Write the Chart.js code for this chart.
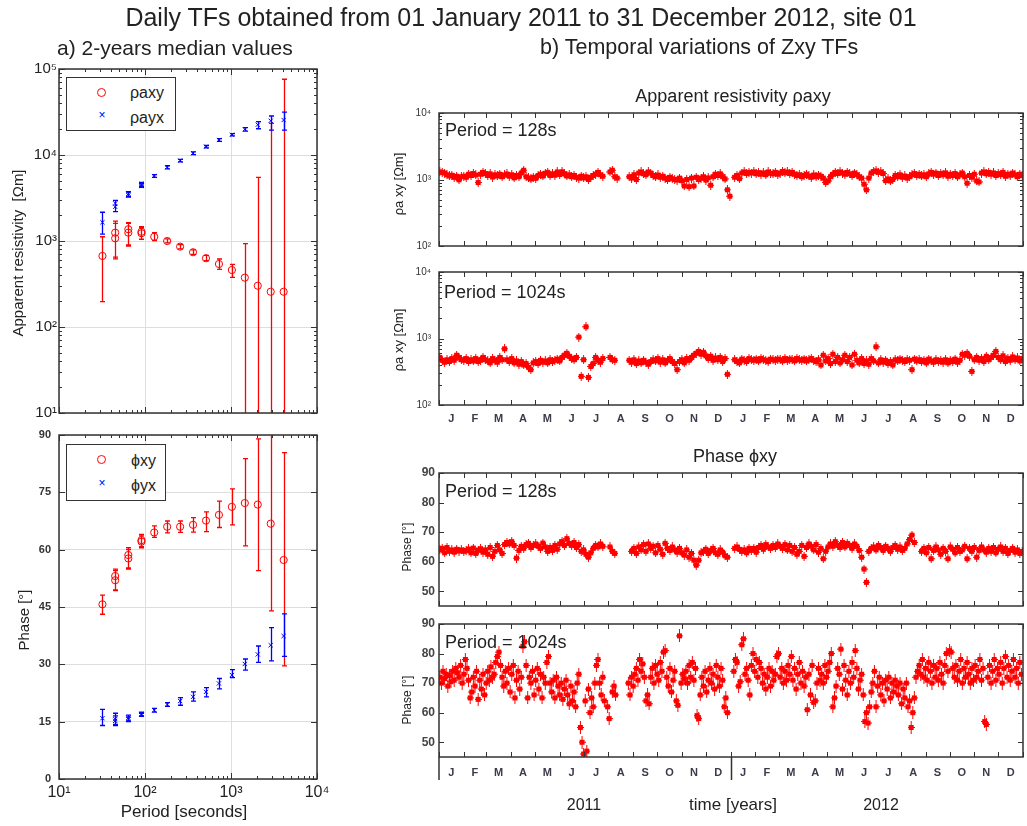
<!DOCTYPE html>
<html><head><meta charset="utf-8">
<script src="https://cdn.jsdelivr.net/npm/chart.js@4.4.1/dist/chart.umd.min.js"></script>
<style>
html,body{margin:0;padding:0;background:#fff;}
#wrap{position:relative;width:1027px;height:826px;overflow:hidden;font-family:"Liberation Sans",Arial,sans-serif;color:#222;}
canvas{position:absolute;left:0;top:0;}
.t{position:absolute;white-space:nowrap;line-height:1;}
.c{transform:translateX(-50%);}
.r{transform:translate(-50%,-50%) rotate(-90deg);}
.lg{position:absolute;border:1.5px solid #333;background:#fff;box-sizing:border-box;}
.mk{position:absolute;}
</style></head><body><div id="wrap">
<canvas id="cA" width="1027" height="826"></canvas>
<canvas id="cB" width="1027" height="826"></canvas>
<canvas id="c1" width="1027" height="826"></canvas>
<canvas id="c2" width="1027" height="826"></canvas>
<canvas id="c3" width="1027" height="826"></canvas>
<canvas id="c4" width="1027" height="826"></canvas>

<div class="t c" style="left:521px;top:5px;font-size:25px;">Daily TFs obtained from 01 January 2011 to 31 December 2012, site 01</div>
<div class="t" style="left:57px;top:37px;font-size:21px;">a) 2-years median values</div>
<div class="t" style="left:540px;top:37px;font-size:21.5px;">b) Temporal variations of Zxy TFs</div>

<div class="lg" style="left:66px;top:77px;width:110px;height:54px;"></div>
<div class="mk" style="left:97px;top:88px;width:7px;height:7px;border:1px solid #ff0000;border-radius:50%;"></div>
<div class="t c" style="left:102px;top:109px;font-size:12px;color:#0000ff;">×</div>
<div class="t" style="left:130px;top:85px;font-size:16px;">ρaxy</div>
<div class="t" style="left:130px;top:110px;font-size:16px;">ρayx</div>

<div class="lg" style="left:66px;top:444px;width:100px;height:57px;"></div>
<div class="mk" style="left:97px;top:455px;width:7px;height:7px;border:1px solid #ff0000;border-radius:50%;"></div>
<div class="t c" style="left:102px;top:477px;font-size:12px;color:#0000ff;">×</div>
<div class="t" style="left:131px;top:453px;font-size:16px;">ϕxy</div>
<div class="t" style="left:131px;top:478px;font-size:16px;">ϕyx</div>

<div class="t r" style="left:17px;top:253px;font-size:15px;">Apparent resistivity &nbsp;[Ωm]</div>
<div class="t r" style="left:23px;top:620px;font-size:15px;">Phase [°]</div>
<div class="t c" style="left:184px;top:803px;font-size:17px;">Period [seconds]</div>

<div class="t c" style="left:733px;top:87px;font-size:18px;">Apparent resistivity ρaxy</div>
<div class="t c" style="left:735px;top:447px;font-size:18px;">Phase ϕxy</div>
<div class="t" style="left:445px;top:121px;font-size:18px;">Period = 128s</div>
<div class="t" style="left:444px;top:283px;font-size:18px;">Period = 1024s</div>
<div class="t" style="left:445px;top:482px;font-size:18px;">Period = 128s</div>
<div class="t" style="left:445px;top:633px;font-size:18px;">Period = 1024s</div>
<div class="t r" style="left:398px;top:184px;font-size:13px;">ρa xy [Ωm]</div>
<div class="t r" style="left:398px;top:340px;font-size:13px;">ρa xy [Ωm]</div>
<div class="t r" style="left:407px;top:547px;font-size:12px;">Phase [°]</div>
<div class="t r" style="left:407px;top:700px;font-size:12px;">Phase [°]</div>
<div class="t c" style="left:584px;top:797px;font-size:16px;">2011</div>
<div class="t c" style="left:733px;top:796px;font-size:17px;">time [years]</div>
<div class="t c" style="left:881px;top:797px;font-size:16px;">2012</div>
</div>
<script>
// ---------- a) 2-years median values ----------
const PERIODS = [32,45,45,64,64,91,91,128,181,256,362,512,724,1024,1448,2048,2896,4096];
const RHO_XY    = [670,1250,1075,1370,1250,1280,1230,1120,1000,860,740,630,540,460,375,302,257,257];
const RHO_XY_LO = [197,650,620,875,900,1045,1050,1010,950,810,700,590,469,378,1,1,1,1];
const RHO_XY_HI = [1120,1700,1600,1630,1600,1465,1420,1250,1060,910,790,680,618,536,930,5500,23300,76000];
const RHO_YX    = [1650,2740,2500,3550,3400,4600,4350,5700,7200,8600,10500,12500,14950,17200,19900,22500,25000,25500];
const RHO_YX_LO = [1200,2190,2190,3300,3250,4350,4200,5500,6900,8300,10100,12100,14400,16700,19000,20200,19500,19500];
const RHO_YX_HI = [2160,2970,2970,3750,3700,4800,4650,5900,7500,8900,10900,12900,15500,17700,20800,24400,28400,31600];
const PHI_XY    = [45.7,53.1,52.0,58.6,57.7,62.5,62.1,64.5,66.0,66.0,66.5,67.6,69.1,71.2,72.2,71.8,66.8,57.3];
const PHI_XY_LO = [43.1,49.3,49.5,54.9,55.2,60.5,60.8,63.2,64.4,64.5,64.6,64.7,65.8,66.5,61.0,54.5,44.0,29.6];
const PHI_XY_HI = [48.1,54.9,54.5,60.5,60.0,64.0,63.6,66.2,67.5,67.5,68.4,69.9,72.7,75.9,83.8,89.0,95.0,85.4];
const PHI_YX    = [15.9,15.7,15.2,16.0,15.6,17.0,16.8,18.0,19.5,20.4,21.5,22.8,25.0,27.2,30.1,32.6,35.0,37.4];
const PHI_YX_LO = [14.0,14.0,14.3,15.2,15.0,16.5,16.4,17.5,19.0,19.3,20.4,21.5,23.6,26.5,28.5,30.5,30.9,32.1];
const PHI_YX_HI = [18.2,17.2,16.5,16.7,16.2,17.5,17.2,18.5,20.0,21.3,22.8,23.9,26.3,28.6,31.4,34.8,39.6,43.2];

const PERIOD_TICKS = [10,100,1000,10000];
const PERIOD_TICK_LABELS = ['10¹','10²','10³','10⁴'];
const RHO_TICKS = [10,100,1000,10000,100000];
const RHO_TICK_LABELS = ['10¹','10²','10³','10⁴','10⁵'];
const PHASE_TICKS = [0,15,30,45,60,75,90];
const PHASE_TICK_LABELS = ['0','15','30','45','60','75','90'];

// ---------- b) daily values (days from 01 Jan 2011) ----------
const MONTH_STARTS = [0,31,59,90,120,151,181,212,243,273,304,334,365,396,425,456,486,517,547,578,609,639,670,700,731];
const MONTH_LABELS = ['J','F','M','A','M','J','J','A','S','O','N','D','J','F','M','A','M','J','J','A','S','O','N','D'];
const DAY_STEP_A = 3;   // one value every 3 days (panels rho128, rho1024, phi128)
const DAY_STEP_B = 2;   // one value every 2 days (panel phi1024)
const RHO_R_TICKS = [100,1000,10000];
const RHO_R_LABELS = ['10²','10³','10⁴'];
const PH_R_TICKS = [50,60,70,80,90];
const PH_R_LABELS = ['50','60','70','80','90'];

const RHO128 = [
1300,1280,1250,1180,1130,1160,1080,1120,990,1100,
1120,1080,1200,1150,1230,1170,900,1200,1280,1230,
1150,1220,1090,1180,1130,1200,1100,1170,1210,1120,
1180,1060,1150,1100,1250,1380,1100,1060,1020,1080,
1040,1150,1200,1130,1240,1280,1150,1220,1160,1300,
1190,1310,1220,1130,1180,1100,1150,1080,1050,1120,
1060,1100,1000,1080,1150,1200,1280,1180,1120,null,
null,1300,1380,1100,1050,null,null,null,null,1100,
1050,1180,1000,1250,1300,1220,1180,1300,1250,1150,
1100,1170,1080,1120,1050,1000,1080,1030,1000,980,
1050,960,800,1000,780,1050,800,1080,1000,1050,
1100,980,1060,820,1100,1200,1150,1220,1100,1020,
700,560,null,1080,1150,1030,1250,1300,1230,1280,
1250,1300,1220,1270,1200,1260,1180,1300,1240,1220,
1280,1200,1250,1320,1260,1300,1230,1280,1200,1150,
1180,1100,1150,1200,1130,1080,1170,1100,1160,1120,
1050,900,950,1100,1200,1280,1230,1300,1250,1200,
1280,1220,1150,1250,1180,1100,1050,850,700,1050,
1250,1320,1350,1280,1300,1230,960,1020,950,1000,
1150,1100,1180,1080,1130,1050,1100,1180,1230,1150,
1200,1130,1180,1100,1220,1280,1200,1250,1150,1230,
1180,1260,1120,1200,1150,1230,1100,1180,1250,1100,
880,1150,1080,1200,950,920,1250,1300,1220,1280,
1200,1260,1150,1230,1180,1280,1120,1200,1160,1250,
1180,1100,1200,1150];

const RHO1024 = [
520,470,440,480,450,500,470,560,520,480,
470,500,450,480,460,500,450,470,520,480,
460,430,500,470,440,520,480,700,480,450,
500,430,460,410,450,400,420,370,340,430,
450,420,470,440,460,430,480,450,470,490,
460,520,560,600,540,500,480,520,1050,270,
480,1500,260,380,420,520,470,440,500,null,
null,520,480,470,null,null,null,null,null,470,
440,480,420,460,430,470,440,410,450,480,
460,500,440,480,430,470,500,450,420,340,
450,480,430,500,470,520,560,600,640,580,
620,550,500,540,470,510,480,520,450,500,
290,null,null,480,450,430,490,470,450,500,
480,470,490,460,500,480,470,450,490,480,
470,490,480,460,500,470,490,480,460,500,
480,470,490,460,480,500,470,450,480,400,
560,460,500,420,580,450,520,430,480,560,
450,520,400,580,470,430,500,420,460,410,
500,460,750,430,480,440,470,420,450,400,
480,460,490,470,450,480,470,340,490,460,
480,450,470,430,490,460,440,480,450,470,
440,480,430,470,450,490,440,470,580,560,
600,540,320,480,520,470,500,450,540,480,
520,560,640,520,480,550,450,500,470,530,
480,510,460,500];

const PHI128 = [
64.0,64.5,63.0,64.8,63.5,64.0,63.2,64.2,63.6,64.0,
63.5,63.8,64.3,63.0,64.6,62.8,63.9,64.4,63.2,64.0,
62.5,64.8,61.8,63.5,65.5,64.0,62.8,65.8,66.5,66.0,
66.8,65.5,61.2,63.8,65.2,64.5,65.8,66.2,64.8,65.5,
66.0,65.2,64.5,66.3,65.0,63.5,64.8,63.8,65.5,64.2,
66.0,66.8,65.5,67.8,66.2,65.5,66.5,64.8,65.8,63.5,
64.0,62.5,61.5,63.0,64.5,65.5,65.0,66.0,65.2,null,
null,65.0,63.5,62.8,null,null,null,null,null,null,
63.5,64.5,62.8,65.0,64.0,65.8,63.5,66.0,64.5,65.2,
63.0,65.5,64.2,62.5,66.2,64.5,63.8,65.0,64.0,63.2,
64.5,63.0,62.2,64.0,61.5,62.8,60.5,58.8,60.5,63.0,
63.5,64.2,62.8,63.8,64.5,63.0,62.5,64.0,63.2,62.0,
61.5,null,null,64.5,65.0,64.2,63.5,64.0,63.0,64.5,
63.8,64.5,63.2,64.8,65.5,64.2,65.8,65.0,64.5,65.5,
64.8,66.0,65.2,64.5,65.8,64.0,65.5,63.5,64.8,62.5,
63.5,65.5,61.8,64.8,66.0,65.2,64.0,65.8,63.2,64.5,
61.0,63.5,65.0,66.0,65.2,66.8,65.5,64.8,66.5,65.0,
66.2,65.5,64.5,66.0,65.2,63.8,61.5,57.5,53.0,63.5,
64.5,65.0,64.0,65.5,64.8,63.8,65.2,64.5,63.5,64.8,
65.5,64.2,65.0,63.8,64.5,66.0,67.5,69.0,66.5,null,
null,63.5,64.5,63.0,64.8,61.0,63.8,65.0,64.0,62.5,
64.5,63.5,61.0,65.0,64.2,63.0,64.8,63.5,64.0,65.2,
61.0,64.5,63.5,64.8,61.5,63.8,65.0,64.0,63.2,64.5,
63.5,64.8,63.0,64.2,65.0,63.5,64.5,62.8,63.8,64.5,
63.2,64.0,62.8,63.5];

const PHI1024 = [
72,70,74,71.5,73,69,72.5,70.5,74,71,
75,73.5,72,76,70,73,78,75,71,65,
67,72,69,74,64.5,71,68,73,66,70,
74,71,75.5,72,73,77,79,80.5,76,72,
69,74,70,75,67,73,76,65,71,74,
68,72,82.5,84,76,65,72,70,74,66,
71,75,68,73,65,72,70,77,79,70,
67,71,65,72,69,66,70,64.5,68,71,
66,63,69,64,67,62,70,73,55,50,
46,64,47,68,60,65,62,70,76,78,
70,66,72,64,null,62,58,null,67,69,
66,null,null,null,null,null,null,null,70,66,
72,69,73,75,71,78,74,76.5,72,64,
66,63,72,75,70,76,73,71,77,74,
80.5,81,72,69,75,67,71,74,64,62.5,
86,70,73,71.5,74,70,76,72,77,71,
75,59,58,66,72,69,74,67,71,75,
70,73,68,76,72,69,75,71,62,65,
60,null,null,null,74,78,77,69,70.5,83,
85,73,75,71,66,76,80,74,78,72,
77,75,70,73,68,72,75,69,74,71,
73,79,80,72,75,70,74,71,76,73,
79,71,75,68,73,77,70,74,69,72,
61,73,66,76,63.5,64,70,75,71,73,
70,76,72,74,77,80,62,65,69,75,
73,81.5,68,76,71,66,74,70,77,72,
81,75,68,71,73,66,57,60,56.5,62,
67,70,74,62,69,72,66,70,64,71,
68,72,65,70,67,71,69,66,70,63,
68,65,70,62,64,55,60,65,72,74,
76,73,78,72,75,71,77,74,70,76,
72,75,71,77,73,70,76,80,74,81,
80.5,75,72,76,71,74,78,70,75,72,
77,73,70,75,71,76,72,74,78,71,
75,57,56,72,76,70,74,78,71,75,
73,77,70,75,79,72,76,71,74,78,
72,75,70,77,73];

// ---------- drawing ----------
const W = 1027, H = 826;
const YW = 40, XH = 30;   // reserved axis box sizes
const FONT = '"Liberation Sans", Arial, sans-serif';
const RED = '#ff0000', BLUE = '#0000ff';

function logMinors(e0, e1) { const r = []; for (let e = e0; e < e1; e++) for (let m = 2; m <= 9; m++) r.push(m * Math.pow(10, e)); return r; }
function monthCenters() { const r = []; for (let i = 0; i < MONTH_STARTS.length - 1; i++) r.push((MONTH_STARTS[i] + MONTH_STARTS[i+1]) / 2); return r; }

function framePlugin(cfg) {
  return {
    id: 'frame',
    afterDatasetsDraw(chart) {
      const {ctx, chartArea: a} = chart;
      const xs = chart.scales.x, ys = chart.scales.y;
      ctx.save();
      ctx.strokeStyle = '#333';
      ctx.lineWidth = 1;
      ctx.beginPath();
      const vt = (vals, len) => (vals || []).forEach(v => {
        const px = Math.round(xs.getPixelForValue(v)) + 0.5;
        if (px < a.left - 1 || px > a.right + 1) return;
        ctx.moveTo(px, a.bottom); ctx.lineTo(px, a.bottom - len);
        ctx.moveTo(px, a.top); ctx.lineTo(px, a.top + len);
      });
      const ht = (vals, len) => (vals || []).forEach(v => {
        const py = Math.round(ys.getPixelForValue(v)) + 0.5;
        if (py < a.top - 1 || py > a.bottom + 1) return;
        ctx.moveTo(a.left, py); ctx.lineTo(a.left + len, py);
        ctx.moveTo(a.right, py); ctx.lineTo(a.right - len, py);
      });
      vt(cfg.xMajor, cfg.majorLen); vt(cfg.xMinor, cfg.minorLen);
      ht(cfg.yMajor, cfg.majorLen); ht(cfg.yMinor, cfg.minorLen);
      ctx.stroke();
      ctx.lineWidth = 1.5;
      ctx.strokeRect(a.left, a.top, a.right - a.left, a.bottom - a.top);
      if (cfg.yearLines) {
        ctx.beginPath();
        const xb = Math.round(xs.getPixelForValue(365)) + 0.5;
        ctx.moveTo(a.left, a.bottom); ctx.lineTo(a.left, a.bottom + 23);
        ctx.moveTo(xb, a.bottom); ctx.lineTo(xb, a.bottom + 23);
        ctx.stroke();
      }
      ctx.restore();
    }
  };
}

function errorPlugin(sets) {
  return {
    id: 'errbars',
    beforeDatasetsDraw(chart) {
      const {ctx, chartArea: a} = chart;
      const xs = chart.scales.x, ys = chart.scales.y;
      ctx.save();
      ctx.beginPath(); ctx.rect(a.left, a.top, a.right - a.left, a.bottom - a.top); ctx.clip();
      sets.forEach(s => {
        ctx.strokeStyle = s.color; ctx.lineWidth = 1.3;
        ctx.beginPath();
        s.x.forEach((xv, j) => {
          const px = Math.round(xs.getPixelForValue(xv)) + 0.5;
          const y1 = ys.getPixelForValue(s.lo[j]), y2 = ys.getPixelForValue(s.hi[j]);
          ctx.moveTo(px, y1); ctx.lineTo(px, y2);
          ctx.moveTo(px - 2.5, y1); ctx.lineTo(px + 2.5, y1);
          ctx.moveTo(px - 2.5, y2); ctx.lineTo(px + 2.5, y2);
        });
        ctx.stroke();
      });
      ctx.restore();
    }
  };
}

function build(id, area, scales, datasets, plugins) {
  scales.x.afterFit = s => { s.height = XH; };
  scales.y.afterFit = s => { s.width = YW; };
  return new Chart(document.getElementById(id), {
    type: 'scatter',
    data: {datasets},
    options: {
      responsive: false, animation: false, devicePixelRatio: 1, events: [],
      layout: {padding: {left: area.l - YW, top: area.t, right: W - area.r, bottom: H - area.b - XH}},
      scales,
      plugins: {legend: {display: false}, tooltip: {enabled: false}}
    },
    plugins
  });
}

function fixedTicks(vals) { return s => { s.ticks = vals.map(v => ({value: v})); }; }
const gridL = {color: '#dedede', lineWidth: 1, drawTicks: false};

const pts = (ys) => PERIODS.map((p, i) => ({x: p, y: ys[i]}));

// left top: apparent resistivity
build('cA', {l: 59, t: 69, r: 317, b: 413}, {
  x: {type: 'logarithmic', min: 10, max: 10000, afterBuildTicks: fixedTicks(PERIOD_TICKS),
      ticks: {display: false}, grid: gridL, border: {display: false}},
  y: {type: 'logarithmic', min: 10, max: 100000, afterBuildTicks: fixedTicks(RHO_TICKS),
      ticks: {autoSkip: false, padding: 2, color: '#222', font: {family: FONT, size: 15}, callback: (v, i) => RHO_TICK_LABELS[i]},
      grid: gridL, border: {display: false}}
}, [
  {data: pts(RHO_XY), pointStyle: 'circle', pointRadius: 3.6, borderColor: RED, backgroundColor: 'rgba(0,0,0,0)', borderWidth: 1},
  {data: pts(RHO_YX), pointStyle: 'crossRot', pointRadius: 3, borderColor: BLUE, backgroundColor: BLUE, borderWidth: 1}
], [errorPlugin([
  {x: PERIODS, lo: RHO_XY_LO, hi: RHO_XY_HI, color: RED},
  {x: PERIODS, lo: RHO_YX_LO, hi: RHO_YX_HI, color: BLUE}
]), framePlugin({xMajor: PERIOD_TICKS, xMinor: logMinors(1, 4), yMajor: RHO_TICKS, yMinor: logMinors(1, 5), majorLen: 6, minorLen: 3})]);

// left bottom: phase
build('cB', {l: 59, t: 435, r: 317, b: 779}, {
  x: {type: 'logarithmic', min: 10, max: 10000, afterBuildTicks: fixedTicks(PERIOD_TICKS),
      ticks: {autoSkip: false, maxRotation: 0, padding: 4, color: '#222', font: {family: FONT, size: 16}, callback: (v, i) => PERIOD_TICK_LABELS[i]},
      grid: gridL, border: {display: false}},
  y: {type: 'linear', min: 0, max: 90, afterBuildTicks: fixedTicks(PHASE_TICKS),
      ticks: {autoSkip: false, padding: 8, color: '#333', font: {family: FONT, size: 11, weight: 'bold'}, callback: (v, i) => PHASE_TICK_LABELS[i]},
      grid: gridL, border: {display: false}}
}, [
  {data: pts(PHI_XY), pointStyle: 'circle', pointRadius: 3.6, borderColor: RED, backgroundColor: 'rgba(0,0,0,0)', borderWidth: 1},
  {data: pts(PHI_YX), pointStyle: 'crossRot', pointRadius: 3, borderColor: BLUE, backgroundColor: BLUE, borderWidth: 1}
], [errorPlugin([
  {x: PERIODS, lo: PHI_XY_LO, hi: PHI_XY_HI, color: RED},
  {x: PERIODS, lo: PHI_YX_LO, hi: PHI_YX_HI, color: BLUE}
]), framePlugin({xMajor: PERIOD_TICKS, xMinor: logMinors(1, 4), yMajor: PHASE_TICKS, majorLen: 6, minorLen: 3})]);

// right panels
const MC = monthCenters();
function xTime(show, pad) {
  return {type: 'linear', min: 0, max: 731, afterBuildTicks: fixedTicks(MC),
    ticks: {display: show, autoSkip: false, maxRotation: 0, minRotation: 0, padding: pad, color: '#3b3b4a',
            font: {family: FONT, size: 11, weight: 'bold'}, callback: (v, i) => MONTH_LABELS[i]},
    grid: {display: false, drawTicks: false}, border: {display: false}};
}
function yRho() {
  return {type: 'logarithmic', min: 100, max: 10000, afterBuildTicks: fixedTicks(RHO_R_TICKS),
    ticks: {autoSkip: false, padding: 8, color: '#333', font: {family: FONT, size: 10}, callback: (v, i) => RHO_R_LABELS[i]},
    grid: {display: false, drawTicks: false}, border: {display: false}};
}
function yPh() {
  return {type: 'linear', min: 45, max: 90, afterBuildTicks: fixedTicks(PH_R_TICKS),
    ticks: {autoSkip: false, padding: 4, color: '#444', font: {family: FONT, size: 12, weight: 'bold'}, callback: (v, i) => PH_R_LABELS[i]},
    grid: {display: false, drawTicks: false}, border: {display: false}};
}

function series(vals, step) { return vals.map((v, i) => ({x: i * step + 1, y: v})); }

function errMark(h, sq) {
  const c = document.createElement('canvas'); c.width = sq + 2; c.height = h;
  const g = c.getContext('2d'); g.fillStyle = RED;
  g.fillRect(1, Math.round((h - sq) / 2), sq, sq);
  g.fillRect(Math.floor((sq + 2) / 2), 0, 1, h);
  g.fillRect(0, Math.floor(h / 2), sq + 2, 1);
  return c;
}

const frR = (extra) => framePlugin(Object.assign({xMajor: MONTH_STARTS, majorLen: 5, minorLen: 3}, extra));
const rhoMinor = logMinors(2, 4);
const markA = errMark(9, 5), markB = errMark(13, 5);

build('c1', {l: 439, t: 113, r: 1026, b: 246}, {x: xTime(false, 7), y: yRho()},
  [{data: series(RHO128, DAY_STEP_A), pointStyle: markA, pointRadius: 3, backgroundColor: RED, borderWidth: 0}],
  [frR({yMajor: RHO_R_TICKS, yMinor: rhoMinor})]);
build('c2', {l: 439, t: 272, r: 1026, b: 405}, {x: xTime(true, 7), y: yRho()},
  [{data: series(RHO1024, DAY_STEP_A), pointStyle: markA, pointRadius: 3, backgroundColor: RED, borderWidth: 0}],
  [frR({yMajor: RHO_R_TICKS, yMinor: rhoMinor})]);
build('c3', {l: 439, t: 473, r: 1026, b: 606}, {x: xTime(false, 7), y: yPh()},
  [{data: series(PHI128, DAY_STEP_A), pointStyle: markA, pointRadius: 3, backgroundColor: RED, borderWidth: 0}],
  [frR({yMajor: PH_R_TICKS})]);
build('c4', {l: 439, t: 624, r: 1026, b: 757}, {x: xTime(true, 9), y: yPh()},
  [{data: series(PHI1024, DAY_STEP_B), pointStyle: markB, pointRadius: 3, backgroundColor: RED, borderWidth: 0}],
  [frR({yMajor: PH_R_TICKS, yearLines: true})]);
</script>
</body></html>
